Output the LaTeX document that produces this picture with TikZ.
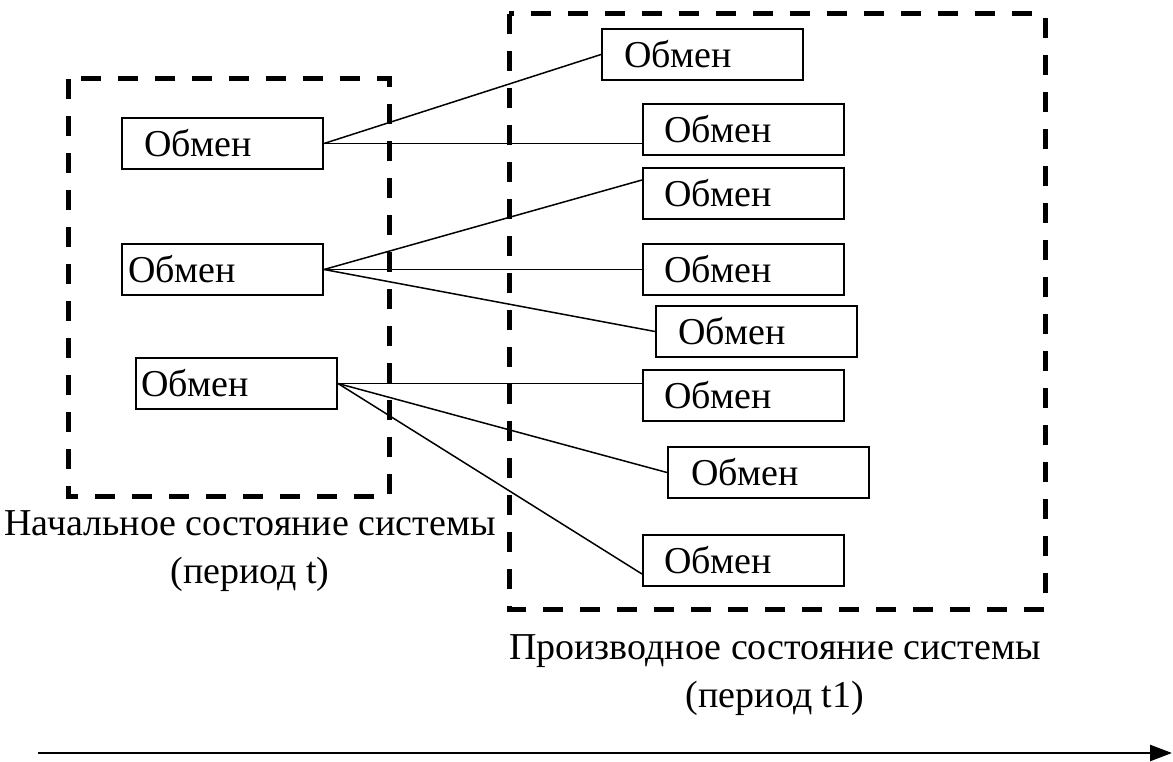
\documentclass[tikz,border=0pt]{standalone}
\usepackage{fontspec}
\setmainfont{Liberation Serif}
\usetikzlibrary{arrows.meta}
\tikzset{
  obox/.style={draw, line width=2pt, anchor=north west, minimum height=51pt,
    text width=201pt, inner xsep=0pt, inner ysep=0pt, align=left,
    font=\fontsize{38}{44}\selectfont},
  dbox/.style={line width=5pt, dash pattern=on 20pt off 17pt},
  link/.style={line width=1.5pt},
  lbl/.style={font=\fontsize{38}{48}\selectfont, align=center, inner sep=0pt},
  timearrow/.style={line width=2.5pt, -{Triangle[length=22pt,width=16pt]}}
}
\begin{document}
\begin{tikzpicture}[x=1pt,y=-1pt]
\useasboundingbox (0,0) rectangle (1173,762);
% dashed frames
\draw[dbox] (68,79) rectangle (389,496);
\draw[dbox] (509,14) rectangle (1045,609);
% left boxes
\node[obox] (L1) at (121,117) {\hspace*{22pt}Обмен};
\node[obox] (L2) at (121,243) {\hspace*{6pt}Обмен};
\node[obox] (L3) at (135,357) {\hspace*{5pt}Обмен};
% right boxes
\node[obox] (R1) at (601,28)  {\hspace*{22pt}Обмен};
\node[obox] (R2) at (642,103) {\hspace*{21pt}Обмен};
\node[obox] (R3) at (642,167) {\hspace*{21pt}Обмен};
\node[obox] (R4) at (642,243) {\hspace*{21pt}Обмен};
\node[obox] (R5) at (655,305) {\hspace*{22pt}Обмен};
\node[obox] (R6) at (642,369) {\hspace*{21pt}Обмен};
\node[obox] (R7) at (667,446) {\hspace*{23pt}Обмен};
\node[obox] (R8) at (642,534) {\hspace*{21pt}Обмен};
% connectors
\draw[link] (L1.east) -- (R1.west);
\draw[link] (L1.east) -- (R2.west |- L1.east);
\draw[link] (L2.east) -- ([yshift=-13pt]R3.north west);
\draw[link] (L2.east) -- (R4.west |- L2.east);
\draw[link] (L2.east) -- (R5.west);
\draw[link] (L3.east) -- (R6.west |- L3.east);
\draw[link] (L3.east) -- (R7.west);
\draw[link] (L3.east) -- ([yshift=13pt]R8.south west);
% labels
\node[lbl] (lab1) at (250,551) {Начальное состояние системы\\(период t)};
\node[lbl] (lab2) at (775,675) {Производное состояние системы\\(период t1)};
% time arrow
\coordinate (t0) at (38,753);
\coordinate (t1) at (1172,753);
\draw[timearrow] (t0) -- (t1);
\end{tikzpicture}
\end{document}
